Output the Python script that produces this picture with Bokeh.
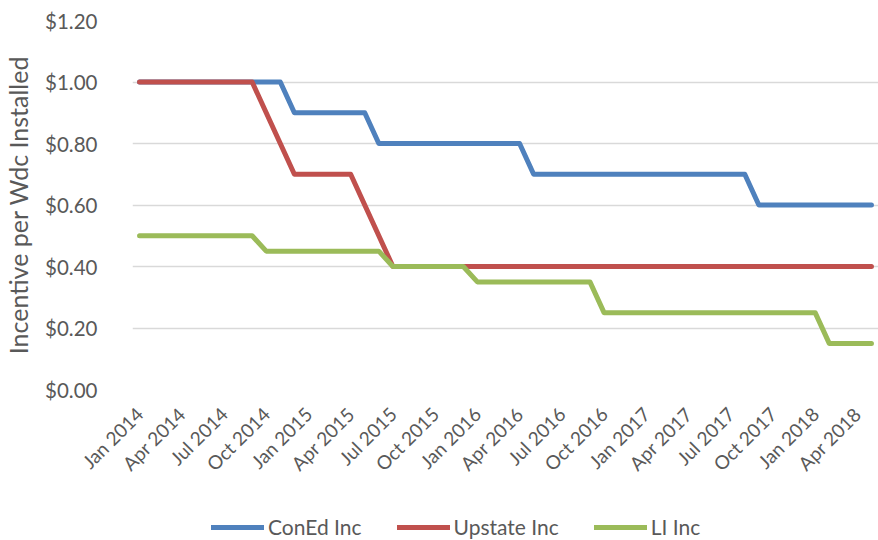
import math
from bokeh.plotting import figure
from bokeh.layouts import column
from bokeh.models import Range1d, FixedTicker, Legend, LegendItem, NumeralTickFormatter
from bokeh.embed import file_html
from bokeh.resources import INLINE

# Monthly index: 0 = Jan 2014 ... 52 = May 2018
month_index = list(range(53))

coned = [1.00] * 11 + [0.90] * 6 + [0.80] * 11 + [0.70] * 16 + [0.60] * 9
upstate = [1.00] * 9 + [0.90, 0.80] + [0.70] * 5 + [0.60, 0.50] + [0.40] * 35
li = [0.50] * 9 + [0.45] * 9 + [0.40] * 6 + [0.35] * 9 + [0.25] * 16 + [0.15] * 4

tick_positions = list(range(0, 52, 3))
tick_labels = ["Jan 2014", "Apr 2014", "Jul 2014", "Oct 2014",
               "Jan 2015", "Apr 2015", "Jul 2015", "Oct 2015",
               "Jan 2016", "Apr 2016", "Jul 2016", "Oct 2016",
               "Jan 2017", "Apr 2017", "Jul 2017", "Oct 2017",
               "Jan 2018", "Apr 2018"]
y_ticks = [0.0, 0.2, 0.4, 0.6, 0.8, 1.0, 1.2]

series_names = ["ConEd Inc", "Upstate Inc", "LI Inc"]
series_colors = ["#4F81BD", "#C0504D", "#9BBB59"]
all_series = [coned, upstate, li]

FONT = "Lato"
GRAY = "#595959"

p = figure(width=878, height=500, output_backend="svg", toolbar_location=None,
           x_range=Range1d(-0.5, 52.5), y_range=Range1d(0, 1.2),
           min_border_left=128, min_border_right=0, min_border_top=20,
           min_border_bottom=111)
p.outline_line_color = None
p.background_fill_color = "white"
p.border_fill_color = "white"

p.xgrid.grid_line_color = None
p.ygrid.grid_line_color = "#D9D9D9"
p.ygrid.grid_line_width = 1.3
p.ygrid.ticker = FixedTicker(ticks=y_ticks)

p.yaxis.ticker = FixedTicker(ticks=y_ticks)
p.yaxis.formatter = NumeralTickFormatter(format="$0.00")
p.yaxis.axis_line_color = None
p.yaxis.major_tick_line_color = None
p.yaxis.minor_tick_line_color = None
p.yaxis.major_label_text_font = FONT
p.yaxis.major_label_text_font_size = "20.5px"
p.yaxis.major_label_text_color = GRAY
p.yaxis.major_label_standoff = 29
p.yaxis.axis_label = "Incentive per Wdc Installed"
p.yaxis.axis_label_text_font = FONT
p.yaxis.axis_label_text_font_size = "25px"
p.yaxis.axis_label_text_font_style = "normal"
p.yaxis.axis_label_text_color = GRAY
p.yaxis.axis_label_standoff = 9

p.xaxis.ticker = FixedTicker(ticks=tick_positions)
p.xaxis.major_label_overrides = {t: l for t, l in zip(tick_positions, tick_labels)}
p.xaxis.major_label_orientation = math.pi / 4
p.xaxis.axis_line_color = None
p.xaxis.major_tick_line_color = None
p.xaxis.minor_tick_line_color = None
p.xaxis.major_label_text_font = FONT
p.xaxis.major_label_text_font_size = "19px"
p.xaxis.major_label_text_color = GRAY
p.xaxis.major_label_standoff = 15

for vals, color in zip(all_series, series_colors):
    p.line(month_index, vals, line_color=color, line_width=5,
           line_cap="round", line_join="round")

# separate strip for the legend below the chart
lg = figure(width=878, height=40, output_backend="svg", toolbar_location=None,
            x_range=Range1d(-0.5, 52.5), y_range=Range1d(10, 11),
            x_axis_type=None, y_axis_type=None,
            min_border_left=0, min_border_right=0, min_border_top=0,
            min_border_bottom=0)
lg.outline_line_color = None
lg.xgrid.grid_line_color = None
lg.ygrid.grid_line_color = None
items = []
for vals, name, color in zip(all_series, series_names, series_colors):
    r = lg.line(month_index, vals, line_color=color, line_width=5,
                line_cap="round", line_join="round")
    items.append(LegendItem(label=name, renderers=[r]))

legend = Legend(items=items, orientation="horizontal", location=(79, 1),
                border_line_color=None, background_fill_alpha=0,
                label_text_font=FONT, label_text_font_size="21px",
                label_text_color=GRAY, glyph_width=53, glyph_height=22,
                label_standoff=4, spacing=35, padding=0, margin=0)
lg.add_layout(legend, "center")

layout = column(p, lg, spacing=0)
open("out.html", "w").write(file_html(layout, INLINE))
